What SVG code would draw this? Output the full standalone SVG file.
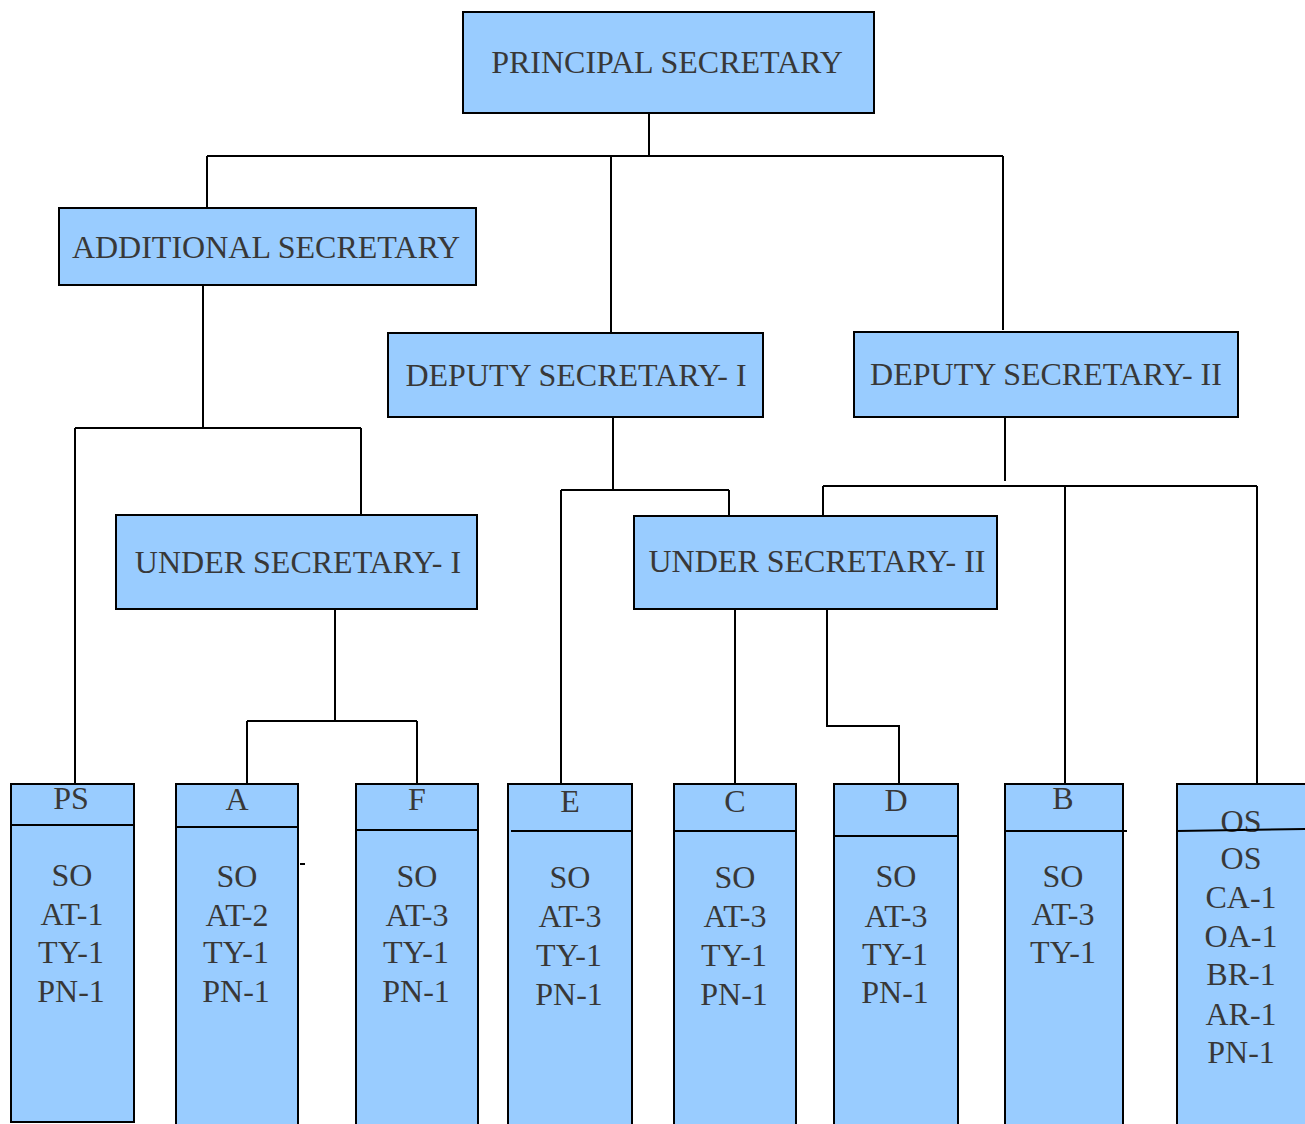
<svg xmlns="http://www.w3.org/2000/svg" width="1305" height="1124" viewBox="0 0 1305 1124">
<style>
.box{fill:#99ccff;stroke:#000;stroke-width:2}
.div{stroke:#000;stroke-width:2;fill:none}
.t{font-family:"Liberation Serif","Times New Roman",serif;font-size:32px;fill:#383838;text-anchor:middle}
.s{font-family:"Liberation Serif","Times New Roman",serif;font-size:32px;fill:#383838;text-anchor:middle}
.c{stroke:#000;stroke-width:2;fill:none}
</style>
<rect width="1305" height="1124" fill="#fff"/>
<g id="connectors">
<path class="c" d="M649 113V156M207 156H1003M207 156V208M611 156V333M1003 156V330"/>
<path class="c" d="M203 283V428M75 428H361M75 428V784M361 428V516"/>
<path class="c" d="M335 609V721M247 721H417M247 721V784M417 721V784"/>
<path class="c" d="M613 417V490M561 490H729M561 490V784M729 490V516"/>
<path class="c" d="M1005 417V481M823 486H1257M823 486V516M1065 486V784M1257 486V784"/>
<path class="c" d="M735 609V784M827 609V726H899V784"/>
<path class="c" d="M300 864H305"/>
</g>
<g id="principal">
<rect class="box" x="463" y="12" width="411" height="101"/>
<text class="t" x="667" y="73">PRINCIPAL SECRETARY</text>
</g>
<g id="additional">
<rect class="box" x="59" y="208" width="417" height="77"/>
<text class="t" x="266" y="258">ADDITIONAL SECRETARY</text>
</g>
<g id="deputy1">
<rect class="box" x="388" y="333" width="375" height="84"/>
<text class="t" x="576" y="386">DEPUTY SECRETARY- I</text>
</g>
<g id="deputy2">
<rect class="box" x="854" y="332" width="384" height="85"/>
<text class="t" x="1046" y="385">DEPUTY SECRETARY- II</text>
</g>
<g id="under1">
<rect class="box" x="116" y="515" width="361" height="94"/>
<text class="t" x="298" y="573">UNDER SECRETARY- I</text>
</g>
<g id="under2">
<rect class="box" x="634" y="516" width="363" height="93"/>
<text class="t" x="817" y="572">UNDER SECRETARY- II</text>
</g>
<g id="ps">
<rect class="box" x="11" y="784" width="123" height="338"/>
<path class="div" d="M11 825H134"/>
<text class="s" x="71" y="809">PS</text>
<text class="s" x="72" y="886">SO</text>
<text class="s" x="72" y="925">AT-1</text>
<text class="s" x="71" y="963">TY-1</text>
<text class="s" x="71" y="1002">PN-1</text>
</g>
<g id="a">
<rect class="box" x="176" y="784" width="122" height="346"/>
<path class="div" d="M176 827H298"/>
<text class="s" x="237" y="810">A</text>
<text class="s" x="237" y="887">SO</text>
<text class="s" x="237" y="926">AT-2</text>
<text class="s" x="236" y="963">TY-1</text>
<text class="s" x="236" y="1002">PN-1</text>
</g>
<g id="f">
<rect class="box" x="356" y="784" width="122" height="346"/>
<path class="div" d="M356 830H478"/>
<text class="s" x="417" y="810">F</text>
<text class="s" x="417" y="887">SO</text>
<text class="s" x="417" y="926">AT-3</text>
<text class="s" x="416" y="963">TY-1</text>
<text class="s" x="416" y="1002">PN-1</text>
</g>
<g id="e">
<rect class="box" x="508" y="784" width="124" height="346"/>
<path class="div" d="M511 831H632"/>
<text class="s" x="570" y="812">E</text>
<text class="s" x="570" y="888">SO</text>
<text class="s" x="570" y="927">AT-3</text>
<text class="s" x="569" y="966">TY-1</text>
<text class="s" x="569" y="1005">PN-1</text>
</g>
<g id="c">
<rect class="box" x="674" y="784" width="122" height="346"/>
<path class="div" d="M674 831H796"/>
<text class="s" x="735" y="812">C</text>
<text class="s" x="735" y="888">SO</text>
<text class="s" x="735" y="927">AT-3</text>
<text class="s" x="734" y="966">TY-1</text>
<text class="s" x="734" y="1005">PN-1</text>
</g>
<g id="d">
<rect class="box" x="834" y="784" width="124" height="346"/>
<path class="div" d="M834 836H958"/>
<text class="s" x="896" y="811">D</text>
<text class="s" x="896" y="887">SO</text>
<text class="s" x="896" y="927">AT-3</text>
<text class="s" x="895" y="965">TY-1</text>
<text class="s" x="895" y="1003">PN-1</text>
</g>
<g id="b">
<rect class="box" x="1005" y="784" width="118" height="346"/>
<path class="div" d="M1005 831H1127"/>
<text class="s" x="1063" y="809">B</text>
<text class="s" x="1063" y="887">SO</text>
<text class="s" x="1063" y="925">AT-3</text>
<text class="s" x="1063" y="963">TY-1</text>
</g>
<g id="os">
<rect class="box" x="1177" y="784" width="140" height="346"/>
<text class="s" x="1241" y="832">OS</text>
<path class="div" d="M1177 831L1305 829"/>
<text class="s" x="1241" y="869">OS</text>
<text class="s" x="1241" y="908">CA-1</text>
<text class="s" x="1241" y="947">OA-1</text>
<text class="s" x="1241" y="985">BR-1</text>
<text class="s" x="1241" y="1025">AR-1</text>
<text class="s" x="1241" y="1063">PN-1</text>
</g>
</svg>
